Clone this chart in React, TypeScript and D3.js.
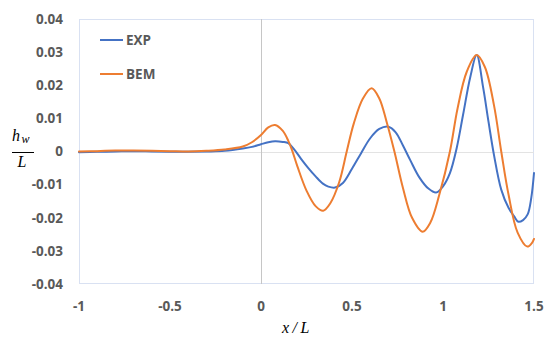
import React from "react";
import * as d3 from "d3";

// Wave elevation profiles along the hull: measurement vs. boundary-element model
const expX = [-1, -0.9, -0.8, -0.7, -0.6, -0.5, -0.4, -0.3, -0.2, -0.1, -0.05, 0, 0.04, 0.077, 0.12, 0.15, 0.18, 0.22, 0.26, 0.3, 0.34, 0.37, 0.407, 0.45, 0.5, 0.55, 0.6, 0.65, 0.7, 0.74, 0.78, 0.82, 0.87, 0.92, 0.962, 1.0, 1.038, 1.075, 1.11, 1.15, 1.185, 1.22, 1.25, 1.28, 1.32, 1.36, 1.39, 1.414, 1.44, 1.465, 1.485, 1.5];
const expY = [-0.0002, -0.0001, 0.0, 0.0001, 0.0, -0.0001, -0.0001, 0.0, 0.0002, 0.0009, 0.0014, 0.0022, 0.0028, 0.0031, 0.0029, 0.0025, 0.0008, -0.0022, -0.005, -0.0075, -0.0097, -0.0106, -0.0109, -0.0095, -0.0052, -0.0005, 0.004, 0.0068, 0.0075, 0.0058, 0.0018, -0.0026, -0.0078, -0.0112, -0.0124, -0.0105, -0.0065, 0.001, 0.011, 0.0225, 0.0291, 0.0195, 0.009, -0.001, -0.0115, -0.017, -0.0195, -0.0212, -0.0207, -0.019, -0.014, -0.0065];

const bemX = [-1, -0.9, -0.8, -0.7, -0.6, -0.5, -0.4, -0.3, -0.2, -0.1, -0.05, 0, 0.04, 0.077, 0.12, 0.15, 0.17, 0.2, 0.25, 0.3, 0.342, 0.38, 0.43, 0.471, 0.51, 0.56, 0.608, 0.65, 0.69, 0.733, 0.78, 0.83, 0.888, 0.93, 0.98, 1.038, 1.08, 1.13, 1.185, 1.23, 1.28, 1.32, 1.36, 1.41, 1.463, 1.49, 1.5];
const bemY = [0.0, 0.0001, 0.0003, 0.0003, 0.0002, 0.0001, 0.0, 0.0002, 0.0006, 0.0015, 0.0028, 0.005, 0.0073, 0.008, 0.0062, 0.0032, 0.0005, -0.0045, -0.0118, -0.0165, -0.0179, -0.0157, -0.0092, 0.0, 0.0085, 0.016, 0.0191, 0.016, 0.009, 0.0, -0.011, -0.02, -0.0242, -0.0215, -0.013, 0.0, 0.013, 0.024, 0.0291, 0.0255, 0.014, 0.0, -0.013, -0.0245, -0.0287, -0.0275, -0.0264];

const xTicks = [-1, -0.5, 0, 0.5, 1, 1.5];
const xTickLabels = ["-1", "-0.5", "0", "0.5", "1", "1.5"];
const yTicks = [0.04, 0.03, 0.02, 0.01, 0, -0.01, -0.02, -0.03, -0.04];
const yTickLabels = ["0.04", "0.03", "0.02", "0.01", "0", "-0.01", "-0.02", "-0.03", "-0.04"];

const seriesNames = ["EXP", "BEM"];
const seriesColors = ["#4472C4", "#ED7D31"];

const W = 545;
const H = 338;
const plot = { left: 79, right: 534, top: 19, bottom: 284 };
const tickFont = "'Open Sans', 'Noto Sans', sans-serif";
const mathFont = "'Liberation Serif', 'DejaVu Serif', serif";

export default function App() {
  const x = d3.scaleLinear().domain([-1, 1.5]).range([plot.left, plot.right]);
  const y = d3.scaleLinear().domain([-0.04, 0.04]).range([plot.bottom, plot.top]);

  const line = d3
    .line<[number, number]>()
    .x((d) => x(d[0]))
    .y((d) => y(d[1]))
    .curve(d3.curveCatmullRom.alpha(0.5));

  const series = [
    expX.map((v, i) => [v, expY[i]] as [number, number]),
    bemX.map((v, i) => [v, bemY[i]] as [number, number]),
  ];

  const legendY = [40, 74];

  return (
    <svg
      width={W}
      height={H}
      style={{ position: "absolute", left: 0, top: 0, background: "#fff" }}
    >
      <rect x={0} y={0} width={W} height={H} fill="#fff" />
      {/* plot frame */}
      <rect
        x={plot.left + 0.5}
        y={plot.top + 0.5}
        width={plot.right - plot.left - 1}
        height={plot.bottom - plot.top - 1}
        fill="none"
        stroke="#D9E1F2"
        strokeWidth={1}
      />
      {/* zero lines */}
      <line x1={plot.left} x2={plot.right} y1={Math.round(y(0)) + 0.5} y2={Math.round(y(0)) + 0.5} stroke="#E3E3E3" strokeWidth={1} />
      <line x1={Math.round(x(0)) + 0.5} x2={Math.round(x(0)) + 0.5} y1={plot.top} y2={plot.bottom} stroke="#C6C6C6" strokeWidth={1} />

      {/* y tick labels */}
      {yTicks.map((t, i) => (
        <text
          key={"y" + i}
          x={63}
          y={y(t)}
          dy="0.36em"
          textAnchor="end"
          fontFamily={tickFont}
          fontWeight={700}
          fontSize={13.5}
          fill="#595959"
        >
          {yTickLabels[i]}
        </text>
      ))}
      {/* x tick labels */}
      {xTicks.map((t, i) => (
        <text
          key={"x" + i}
          x={x(t)}
          y={306}
          dy="0.36em"
          textAnchor="middle"
          fontFamily={tickFont}
          fontWeight={700}
          fontSize={13.5}
          fill="#595959"
        >
          {xTickLabels[i]}
        </text>
      ))}

      {/* data lines */}
      {series.map((pts, i) => (
        <path
          key={"s" + i}
          d={line(pts) || ""}
          fill="none"
          stroke={seriesColors[i]}
          strokeWidth={2}
          strokeLinejoin="round"
          strokeLinecap="round"
        />
      ))}

      {/* legend */}
      {seriesNames.map((name, i) => (
        <g key={"l" + i}>
          <line x1={100} x2={123} y1={legendY[i]} y2={legendY[i]} stroke={seriesColors[i]} strokeWidth={2} />
          <text
            x={126}
            y={legendY[i]}
            dy="0.36em"
            fontFamily={tickFont}
            fontWeight={700}
            fontSize={13.5}
            fill="#595959"
          >
            {name}
          </text>
        </g>
      ))}

      {/* y axis title: h_w / L */}
      <g fontFamily={mathFont} fontStyle="italic" fill="#000">
        <text x={12} y={141} fontSize={16}>h</text>
        <text x={21.5} y={143} fontSize={12}>w</text>
        <line x1={12} x2={34} y1={152.5} y2={152.5} stroke="#000" strokeWidth={1} />
        <text x={17.5} y={167} fontSize={16}>L</text>
      </g>

      {/* x axis title */}
      <g fontFamily={mathFont} fontStyle="italic" fill="#000" fontSize={16}>
        <text x={282} y={333}>x</text>
        <text x={292.5} y={333}>/</text>
        <text x={300.5} y={333}>L</text>
      </g>
    </svg>
  );
}
